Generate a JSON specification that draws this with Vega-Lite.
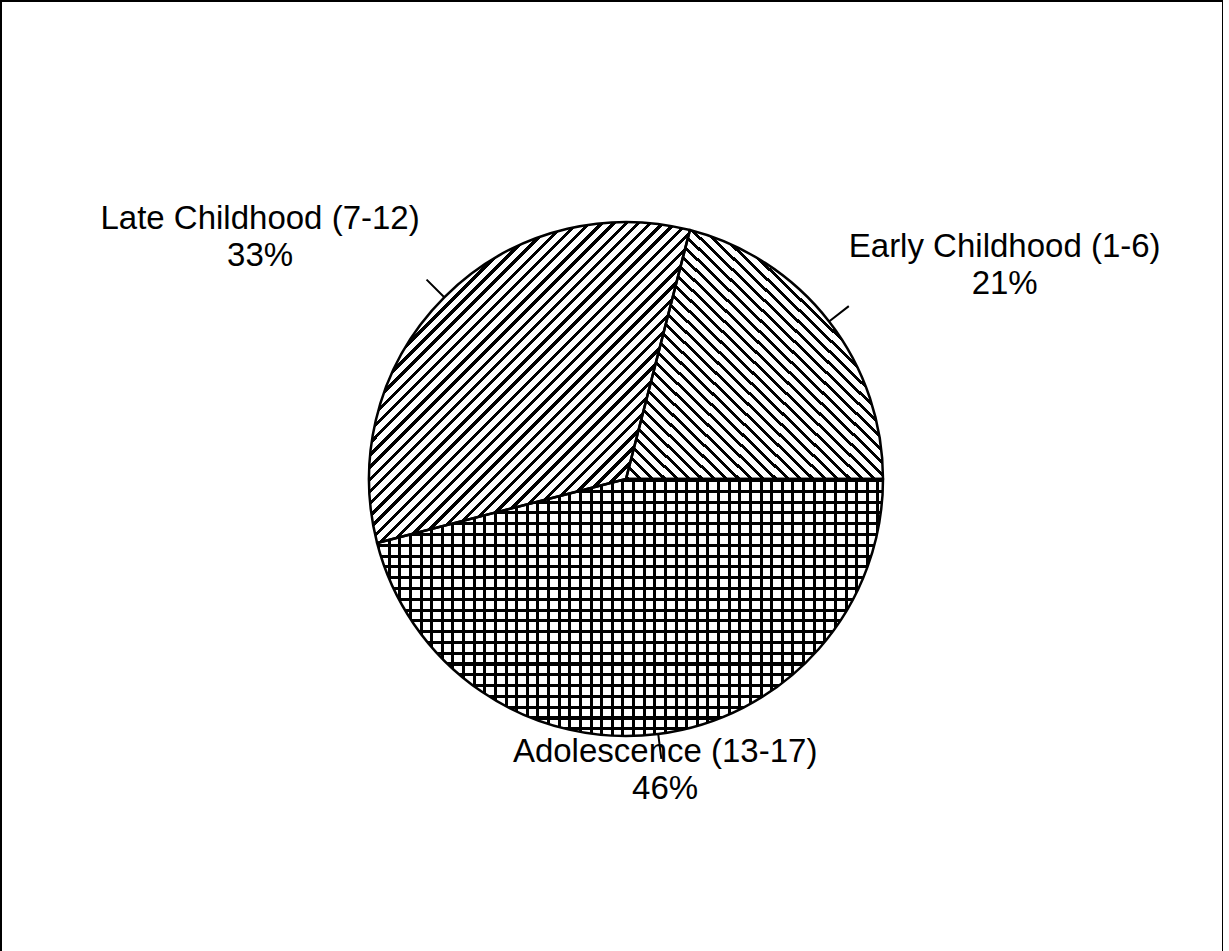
{
"$schema":"https://vega.github.io/schema/vega-lite/v6.json",
"autosize":{"type":"none"},
"width":1222,"height":956,
"padding":{"left":1,"top":1,"right":0,"bottom":0},
"background":"#ffffff",
"view":{"stroke":"#000000","strokeWidth":2},
"data":{"values":[
{"cat":"Early Childhood (1-6)","pct":21,"ord":1},
{"cat":"Adolescence (13-17)","pct":46,"ord":2},
{"cat":"Late Childhood (7-12)","pct":33,"ord":3}
]},
"transform":[{"calculate":"datum.cat + '\\n' + datum.pct + '%'","as":"txt"}],
"encoding":{
"theta":{"field":"pct","type":"quantitative","stack":true,"scale":{"range":[0.2513,6.5345]}},
"order":{"field":"ord","type":"quantitative"},
"detail":{"field":"cat","type":"nominal"}
},
"layer":[
{"mark":{"type":"arc","radius":257,"x":{"expr":"width/2+14"},"y":{"expr":"height/2"},
"fill":{"gradient":"linear","x1":0,"y1":1,"x2":1,"y2":0,"stops":[
{"offset":0,"color":"#000"},{"offset":0.008,"color":"#000"},{"offset":0.008,"color":"#fff"},{"offset":0.024,"color":"#fff"},
{"offset":0.024,"color":"#000"},{"offset":0.032,"color":"#000"},{"offset":0.032,"color":"#fff"},{"offset":0.048,"color":"#fff"},
{"offset":0.048,"color":"#000"},{"offset":0.056,"color":"#000"},{"offset":0.056,"color":"#fff"},{"offset":0.072,"color":"#fff"},
{"offset":0.072,"color":"#000"},{"offset":0.08,"color":"#000"},{"offset":0.08,"color":"#fff"},{"offset":0.096,"color":"#fff"},
{"offset":0.096,"color":"#000"},{"offset":0.104,"color":"#000"},{"offset":0.104,"color":"#fff"},{"offset":0.12,"color":"#fff"},
{"offset":0.12,"color":"#000"},{"offset":0.128,"color":"#000"},{"offset":0.128,"color":"#fff"},{"offset":0.144,"color":"#fff"},
{"offset":0.144,"color":"#000"},{"offset":0.152,"color":"#000"},{"offset":0.152,"color":"#fff"},{"offset":0.168,"color":"#fff"},
{"offset":0.168,"color":"#000"},{"offset":0.176,"color":"#000"},{"offset":0.176,"color":"#fff"},{"offset":0.192,"color":"#fff"},
{"offset":0.192,"color":"#000"},{"offset":0.2,"color":"#000"},{"offset":0.2,"color":"#fff"},{"offset":0.216,"color":"#fff"},
{"offset":0.216,"color":"#000"},{"offset":0.224,"color":"#000"},{"offset":0.224,"color":"#fff"},{"offset":0.24,"color":"#fff"},
{"offset":0.24,"color":"#000"},{"offset":0.248,"color":"#000"},{"offset":0.248,"color":"#fff"},{"offset":0.264,"color":"#fff"},
{"offset":0.264,"color":"#000"},{"offset":0.272,"color":"#000"},{"offset":0.272,"color":"#fff"},{"offset":0.288,"color":"#fff"},
{"offset":0.288,"color":"#000"},{"offset":0.296,"color":"#000"},{"offset":0.296,"color":"#fff"},{"offset":0.312,"color":"#fff"},
{"offset":0.312,"color":"#000"},{"offset":0.32,"color":"#000"},{"offset":0.32,"color":"#fff"},{"offset":0.336,"color":"#fff"},
{"offset":0.336,"color":"#000"},{"offset":0.344,"color":"#000"},{"offset":0.344,"color":"#fff"},{"offset":0.36,"color":"#fff"},
{"offset":0.36,"color":"#000"},{"offset":0.368,"color":"#000"},{"offset":0.368,"color":"#fff"},{"offset":0.384,"color":"#fff"},
{"offset":0.384,"color":"#000"},{"offset":0.392,"color":"#000"},{"offset":0.392,"color":"#fff"},{"offset":0.408,"color":"#fff"},
{"offset":0.408,"color":"#000"},{"offset":0.416,"color":"#000"},{"offset":0.416,"color":"#fff"},{"offset":0.432,"color":"#fff"},
{"offset":0.432,"color":"#000"},{"offset":0.44,"color":"#000"},{"offset":0.44,"color":"#fff"},{"offset":0.456,"color":"#fff"},
{"offset":0.456,"color":"#000"},{"offset":0.464,"color":"#000"},{"offset":0.464,"color":"#fff"},{"offset":0.48,"color":"#fff"},
{"offset":0.48,"color":"#000"},{"offset":0.488,"color":"#000"},{"offset":0.488,"color":"#fff"},{"offset":0.504,"color":"#fff"},
{"offset":0.504,"color":"#000"},{"offset":0.512,"color":"#000"},{"offset":0.512,"color":"#fff"},{"offset":0.528,"color":"#fff"},
{"offset":0.528,"color":"#000"},{"offset":0.536,"color":"#000"},{"offset":0.536,"color":"#fff"},{"offset":0.552,"color":"#fff"},
{"offset":0.552,"color":"#000"},{"offset":0.56,"color":"#000"},{"offset":0.56,"color":"#fff"},{"offset":0.576,"color":"#fff"},
{"offset":0.576,"color":"#000"},{"offset":0.584,"color":"#000"},{"offset":0.584,"color":"#fff"},{"offset":0.6,"color":"#fff"},
{"offset":0.6,"color":"#000"},{"offset":0.608,"color":"#000"},{"offset":0.608,"color":"#fff"},{"offset":0.624,"color":"#fff"},
{"offset":0.624,"color":"#000"},{"offset":0.632,"color":"#000"},{"offset":0.632,"color":"#fff"},{"offset":0.648,"color":"#fff"},
{"offset":0.648,"color":"#000"},{"offset":0.656,"color":"#000"},{"offset":0.656,"color":"#fff"},{"offset":0.672,"color":"#fff"},
{"offset":0.672,"color":"#000"},{"offset":0.68,"color":"#000"},{"offset":0.68,"color":"#fff"},{"offset":0.696,"color":"#fff"},
{"offset":0.696,"color":"#000"},{"offset":0.704,"color":"#000"},{"offset":0.704,"color":"#fff"},{"offset":0.72,"color":"#fff"},
{"offset":0.72,"color":"#000"},{"offset":0.728,"color":"#000"},{"offset":0.728,"color":"#fff"},{"offset":0.744,"color":"#fff"},
{"offset":0.744,"color":"#000"},{"offset":0.752,"color":"#000"},{"offset":0.752,"color":"#fff"},{"offset":0.768,"color":"#fff"},
{"offset":0.768,"color":"#000"},{"offset":0.776,"color":"#000"},{"offset":0.776,"color":"#fff"},{"offset":0.792,"color":"#fff"},
{"offset":0.792,"color":"#000"},{"offset":0.8,"color":"#000"},{"offset":0.8,"color":"#fff"},{"offset":0.816,"color":"#fff"},
{"offset":0.816,"color":"#000"},{"offset":0.824,"color":"#000"},{"offset":0.824,"color":"#fff"},{"offset":0.84,"color":"#fff"},
{"offset":0.84,"color":"#000"},{"offset":0.848,"color":"#000"},{"offset":0.848,"color":"#fff"},{"offset":0.864,"color":"#fff"},
{"offset":0.864,"color":"#000"},{"offset":0.872,"color":"#000"},{"offset":0.872,"color":"#fff"},{"offset":0.888,"color":"#fff"},
{"offset":0.888,"color":"#000"},{"offset":0.896,"color":"#000"},{"offset":0.896,"color":"#fff"},{"offset":0.912,"color":"#fff"},
{"offset":0.912,"color":"#000"},{"offset":0.92,"color":"#000"},{"offset":0.92,"color":"#fff"},{"offset":0.936,"color":"#fff"},
{"offset":0.936,"color":"#000"},{"offset":0.944,"color":"#000"},{"offset":0.944,"color":"#fff"},{"offset":0.96,"color":"#fff"},
{"offset":0.96,"color":"#000"},{"offset":0.968,"color":"#000"},{"offset":0.968,"color":"#fff"},{"offset":1,"color":"#fff"}
]}},
"encoding":{"fillOpacity":{"condition":{"test":"datum.ord === 1","value":1},"value":0}}},
{"mark":{"type":"arc","radius":257,"x":{"expr":"width/2+14"},"y":{"expr":"height/2"},
"fill":{"gradient":"linear","x1":0,"y1":0,"x2":1,"y2":1,"stops":[
{"offset":0,"color":"#000"},{"offset":0.007,"color":"#000"},{"offset":0.007,"color":"#fff"},{"offset":0.019,"color":"#fff"},
{"offset":0.019,"color":"#000"},{"offset":0.026,"color":"#000"},{"offset":0.026,"color":"#fff"},{"offset":0.038,"color":"#fff"},
{"offset":0.038,"color":"#000"},{"offset":0.045,"color":"#000"},{"offset":0.045,"color":"#fff"},{"offset":0.057,"color":"#fff"},
{"offset":0.057,"color":"#000"},{"offset":0.064,"color":"#000"},{"offset":0.064,"color":"#fff"},{"offset":0.076,"color":"#fff"},
{"offset":0.076,"color":"#000"},{"offset":0.083,"color":"#000"},{"offset":0.083,"color":"#fff"},{"offset":0.095,"color":"#fff"},
{"offset":0.095,"color":"#000"},{"offset":0.102,"color":"#000"},{"offset":0.102,"color":"#fff"},{"offset":0.114,"color":"#fff"},
{"offset":0.114,"color":"#000"},{"offset":0.121,"color":"#000"},{"offset":0.121,"color":"#fff"},{"offset":0.133,"color":"#fff"},
{"offset":0.133,"color":"#000"},{"offset":0.14,"color":"#000"},{"offset":0.14,"color":"#fff"},{"offset":0.152,"color":"#fff"},
{"offset":0.152,"color":"#000"},{"offset":0.159,"color":"#000"},{"offset":0.159,"color":"#fff"},{"offset":0.171,"color":"#fff"},
{"offset":0.171,"color":"#000"},{"offset":0.178,"color":"#000"},{"offset":0.178,"color":"#fff"},{"offset":0.19,"color":"#fff"},
{"offset":0.19,"color":"#000"},{"offset":0.197,"color":"#000"},{"offset":0.197,"color":"#fff"},{"offset":0.209,"color":"#fff"},
{"offset":0.209,"color":"#000"},{"offset":0.216,"color":"#000"},{"offset":0.216,"color":"#fff"},{"offset":0.228,"color":"#fff"},
{"offset":0.228,"color":"#000"},{"offset":0.235,"color":"#000"},{"offset":0.235,"color":"#fff"},{"offset":0.247,"color":"#fff"},
{"offset":0.247,"color":"#000"},{"offset":0.254,"color":"#000"},{"offset":0.254,"color":"#fff"},{"offset":0.266,"color":"#fff"},
{"offset":0.266,"color":"#000"},{"offset":0.273,"color":"#000"},{"offset":0.273,"color":"#fff"},{"offset":0.285,"color":"#fff"},
{"offset":0.285,"color":"#000"},{"offset":0.292,"color":"#000"},{"offset":0.292,"color":"#fff"},{"offset":0.304,"color":"#fff"},
{"offset":0.304,"color":"#000"},{"offset":0.311,"color":"#000"},{"offset":0.311,"color":"#fff"},{"offset":0.323,"color":"#fff"},
{"offset":0.323,"color":"#000"},{"offset":0.33,"color":"#000"},{"offset":0.33,"color":"#fff"},{"offset":0.342,"color":"#fff"},
{"offset":0.342,"color":"#000"},{"offset":0.349,"color":"#000"},{"offset":0.349,"color":"#fff"},{"offset":0.361,"color":"#fff"},
{"offset":0.361,"color":"#000"},{"offset":0.368,"color":"#000"},{"offset":0.368,"color":"#fff"},{"offset":0.38,"color":"#fff"},
{"offset":0.38,"color":"#000"},{"offset":0.387,"color":"#000"},{"offset":0.387,"color":"#fff"},{"offset":0.399,"color":"#fff"},
{"offset":0.399,"color":"#000"},{"offset":0.406,"color":"#000"},{"offset":0.406,"color":"#fff"},{"offset":0.418,"color":"#fff"},
{"offset":0.418,"color":"#000"},{"offset":0.425,"color":"#000"},{"offset":0.425,"color":"#fff"},{"offset":0.437,"color":"#fff"},
{"offset":0.437,"color":"#000"},{"offset":0.444,"color":"#000"},{"offset":0.444,"color":"#fff"},{"offset":0.456,"color":"#fff"},
{"offset":0.456,"color":"#000"},{"offset":0.463,"color":"#000"},{"offset":0.463,"color":"#fff"},{"offset":0.475,"color":"#fff"},
{"offset":0.475,"color":"#000"},{"offset":0.482,"color":"#000"},{"offset":0.482,"color":"#fff"},{"offset":0.494,"color":"#fff"},
{"offset":0.494,"color":"#000"},{"offset":0.501,"color":"#000"},{"offset":0.501,"color":"#fff"},{"offset":0.513,"color":"#fff"},
{"offset":0.513,"color":"#000"},{"offset":0.52,"color":"#000"},{"offset":0.52,"color":"#fff"},{"offset":0.532,"color":"#fff"},
{"offset":0.532,"color":"#000"},{"offset":0.539,"color":"#000"},{"offset":0.539,"color":"#fff"},{"offset":0.551,"color":"#fff"},
{"offset":0.551,"color":"#000"},{"offset":0.558,"color":"#000"},{"offset":0.558,"color":"#fff"},{"offset":0.57,"color":"#fff"},
{"offset":0.57,"color":"#000"},{"offset":0.577,"color":"#000"},{"offset":0.577,"color":"#fff"},{"offset":0.589,"color":"#fff"},
{"offset":0.589,"color":"#000"},{"offset":0.596,"color":"#000"},{"offset":0.596,"color":"#fff"},{"offset":0.608,"color":"#fff"},
{"offset":0.608,"color":"#000"},{"offset":0.615,"color":"#000"},{"offset":0.615,"color":"#fff"},{"offset":0.627,"color":"#fff"},
{"offset":0.627,"color":"#000"},{"offset":0.634,"color":"#000"},{"offset":0.634,"color":"#fff"},{"offset":0.646,"color":"#fff"},
{"offset":0.646,"color":"#000"},{"offset":0.653,"color":"#000"},{"offset":0.653,"color":"#fff"},{"offset":0.665,"color":"#fff"},
{"offset":0.665,"color":"#000"},{"offset":0.672,"color":"#000"},{"offset":0.672,"color":"#fff"},{"offset":0.684,"color":"#fff"},
{"offset":0.684,"color":"#000"},{"offset":0.691,"color":"#000"},{"offset":0.691,"color":"#fff"},{"offset":0.703,"color":"#fff"},
{"offset":0.703,"color":"#000"},{"offset":0.71,"color":"#000"},{"offset":0.71,"color":"#fff"},{"offset":0.722,"color":"#fff"},
{"offset":0.722,"color":"#000"},{"offset":0.729,"color":"#000"},{"offset":0.729,"color":"#fff"},{"offset":0.741,"color":"#fff"},
{"offset":0.741,"color":"#000"},{"offset":0.748,"color":"#000"},{"offset":0.748,"color":"#fff"},{"offset":0.76,"color":"#fff"},
{"offset":0.76,"color":"#000"},{"offset":0.767,"color":"#000"},{"offset":0.767,"color":"#fff"},{"offset":0.779,"color":"#fff"},
{"offset":0.779,"color":"#000"},{"offset":0.786,"color":"#000"},{"offset":0.786,"color":"#fff"},{"offset":0.798,"color":"#fff"},
{"offset":0.798,"color":"#000"},{"offset":0.805,"color":"#000"},{"offset":0.805,"color":"#fff"},{"offset":0.817,"color":"#fff"},
{"offset":0.817,"color":"#000"},{"offset":0.824,"color":"#000"},{"offset":0.824,"color":"#fff"},{"offset":0.836,"color":"#fff"},
{"offset":0.836,"color":"#000"},{"offset":0.843,"color":"#000"},{"offset":0.843,"color":"#fff"},{"offset":0.855,"color":"#fff"},
{"offset":0.855,"color":"#000"},{"offset":0.862,"color":"#000"},{"offset":0.862,"color":"#fff"},{"offset":0.874,"color":"#fff"},
{"offset":0.874,"color":"#000"},{"offset":0.881,"color":"#000"},{"offset":0.881,"color":"#fff"},{"offset":0.893,"color":"#fff"},
{"offset":0.893,"color":"#000"},{"offset":0.9,"color":"#000"},{"offset":0.9,"color":"#fff"},{"offset":0.912,"color":"#fff"},
{"offset":0.912,"color":"#000"},{"offset":0.919,"color":"#000"},{"offset":0.919,"color":"#fff"},{"offset":0.931,"color":"#fff"},
{"offset":0.931,"color":"#000"},{"offset":0.938,"color":"#000"},{"offset":0.938,"color":"#fff"},{"offset":0.95,"color":"#fff"},
{"offset":0.95,"color":"#000"},{"offset":0.957,"color":"#000"},{"offset":0.957,"color":"#fff"},{"offset":0.969,"color":"#fff"},
{"offset":0.969,"color":"#000"},{"offset":0.976,"color":"#000"},{"offset":0.976,"color":"#fff"},{"offset":0.988,"color":"#fff"},
{"offset":0.988,"color":"#000"},{"offset":0.995,"color":"#000"},{"offset":0.995,"color":"#fff"},{"offset":1,"color":"#fff"}
]}},
"encoding":{"fillOpacity":{"condition":{"test":"datum.ord === 3","value":1},"value":0}}},
{"mark":{"type":"arc","radius":257,"x":{"expr":"width/2+14"},"y":{"expr":"height/2"},
"fill":{"gradient":"linear","x1":0,"y1":0,"x2":1,"y2":0,"stops":[
{"offset":0,"color":"#000"},{"offset":0.006,"color":"#000"},{"offset":0.006,"color":"#fff"},{"offset":0.021,"color":"#fff"},
{"offset":0.021,"color":"#000"},{"offset":0.027,"color":"#000"},{"offset":0.027,"color":"#fff"},{"offset":0.042,"color":"#fff"},
{"offset":0.042,"color":"#000"},{"offset":0.048,"color":"#000"},{"offset":0.048,"color":"#fff"},{"offset":0.063,"color":"#fff"},
{"offset":0.063,"color":"#000"},{"offset":0.069,"color":"#000"},{"offset":0.069,"color":"#fff"},{"offset":0.084,"color":"#fff"},
{"offset":0.084,"color":"#000"},{"offset":0.09,"color":"#000"},{"offset":0.09,"color":"#fff"},{"offset":0.105,"color":"#fff"},
{"offset":0.105,"color":"#000"},{"offset":0.111,"color":"#000"},{"offset":0.111,"color":"#fff"},{"offset":0.126,"color":"#fff"},
{"offset":0.126,"color":"#000"},{"offset":0.132,"color":"#000"},{"offset":0.132,"color":"#fff"},{"offset":0.147,"color":"#fff"},
{"offset":0.147,"color":"#000"},{"offset":0.153,"color":"#000"},{"offset":0.153,"color":"#fff"},{"offset":0.168,"color":"#fff"},
{"offset":0.168,"color":"#000"},{"offset":0.174,"color":"#000"},{"offset":0.174,"color":"#fff"},{"offset":0.189,"color":"#fff"},
{"offset":0.189,"color":"#000"},{"offset":0.195,"color":"#000"},{"offset":0.195,"color":"#fff"},{"offset":0.21,"color":"#fff"},
{"offset":0.21,"color":"#000"},{"offset":0.216,"color":"#000"},{"offset":0.216,"color":"#fff"},{"offset":0.231,"color":"#fff"},
{"offset":0.231,"color":"#000"},{"offset":0.237,"color":"#000"},{"offset":0.237,"color":"#fff"},{"offset":0.252,"color":"#fff"},
{"offset":0.252,"color":"#000"},{"offset":0.258,"color":"#000"},{"offset":0.258,"color":"#fff"},{"offset":0.273,"color":"#fff"},
{"offset":0.273,"color":"#000"},{"offset":0.279,"color":"#000"},{"offset":0.279,"color":"#fff"},{"offset":0.294,"color":"#fff"},
{"offset":0.294,"color":"#000"},{"offset":0.3,"color":"#000"},{"offset":0.3,"color":"#fff"},{"offset":0.315,"color":"#fff"},
{"offset":0.315,"color":"#000"},{"offset":0.321,"color":"#000"},{"offset":0.321,"color":"#fff"},{"offset":0.336,"color":"#fff"},
{"offset":0.336,"color":"#000"},{"offset":0.342,"color":"#000"},{"offset":0.342,"color":"#fff"},{"offset":0.357,"color":"#fff"},
{"offset":0.357,"color":"#000"},{"offset":0.363,"color":"#000"},{"offset":0.363,"color":"#fff"},{"offset":0.378,"color":"#fff"},
{"offset":0.378,"color":"#000"},{"offset":0.384,"color":"#000"},{"offset":0.384,"color":"#fff"},{"offset":0.399,"color":"#fff"},
{"offset":0.399,"color":"#000"},{"offset":0.405,"color":"#000"},{"offset":0.405,"color":"#fff"},{"offset":0.42,"color":"#fff"},
{"offset":0.42,"color":"#000"},{"offset":0.426,"color":"#000"},{"offset":0.426,"color":"#fff"},{"offset":0.441,"color":"#fff"},
{"offset":0.441,"color":"#000"},{"offset":0.447,"color":"#000"},{"offset":0.447,"color":"#fff"},{"offset":0.462,"color":"#fff"},
{"offset":0.462,"color":"#000"},{"offset":0.468,"color":"#000"},{"offset":0.468,"color":"#fff"},{"offset":0.483,"color":"#fff"},
{"offset":0.483,"color":"#000"},{"offset":0.489,"color":"#000"},{"offset":0.489,"color":"#fff"},{"offset":0.504,"color":"#fff"},
{"offset":0.504,"color":"#000"},{"offset":0.51,"color":"#000"},{"offset":0.51,"color":"#fff"},{"offset":0.525,"color":"#fff"},
{"offset":0.525,"color":"#000"},{"offset":0.531,"color":"#000"},{"offset":0.531,"color":"#fff"},{"offset":0.546,"color":"#fff"},
{"offset":0.546,"color":"#000"},{"offset":0.552,"color":"#000"},{"offset":0.552,"color":"#fff"},{"offset":0.567,"color":"#fff"},
{"offset":0.567,"color":"#000"},{"offset":0.573,"color":"#000"},{"offset":0.573,"color":"#fff"},{"offset":0.588,"color":"#fff"},
{"offset":0.588,"color":"#000"},{"offset":0.594,"color":"#000"},{"offset":0.594,"color":"#fff"},{"offset":0.609,"color":"#fff"},
{"offset":0.609,"color":"#000"},{"offset":0.615,"color":"#000"},{"offset":0.615,"color":"#fff"},{"offset":0.63,"color":"#fff"},
{"offset":0.63,"color":"#000"},{"offset":0.636,"color":"#000"},{"offset":0.636,"color":"#fff"},{"offset":0.651,"color":"#fff"},
{"offset":0.651,"color":"#000"},{"offset":0.657,"color":"#000"},{"offset":0.657,"color":"#fff"},{"offset":0.672,"color":"#fff"},
{"offset":0.672,"color":"#000"},{"offset":0.678,"color":"#000"},{"offset":0.678,"color":"#fff"},{"offset":0.693,"color":"#fff"},
{"offset":0.693,"color":"#000"},{"offset":0.699,"color":"#000"},{"offset":0.699,"color":"#fff"},{"offset":0.714,"color":"#fff"},
{"offset":0.714,"color":"#000"},{"offset":0.72,"color":"#000"},{"offset":0.72,"color":"#fff"},{"offset":0.735,"color":"#fff"},
{"offset":0.735,"color":"#000"},{"offset":0.741,"color":"#000"},{"offset":0.741,"color":"#fff"},{"offset":0.756,"color":"#fff"},
{"offset":0.756,"color":"#000"},{"offset":0.762,"color":"#000"},{"offset":0.762,"color":"#fff"},{"offset":0.777,"color":"#fff"},
{"offset":0.777,"color":"#000"},{"offset":0.783,"color":"#000"},{"offset":0.783,"color":"#fff"},{"offset":0.798,"color":"#fff"},
{"offset":0.798,"color":"#000"},{"offset":0.804,"color":"#000"},{"offset":0.804,"color":"#fff"},{"offset":0.819,"color":"#fff"},
{"offset":0.819,"color":"#000"},{"offset":0.825,"color":"#000"},{"offset":0.825,"color":"#fff"},{"offset":0.84,"color":"#fff"},
{"offset":0.84,"color":"#000"},{"offset":0.846,"color":"#000"},{"offset":0.846,"color":"#fff"},{"offset":0.861,"color":"#fff"},
{"offset":0.861,"color":"#000"},{"offset":0.867,"color":"#000"},{"offset":0.867,"color":"#fff"},{"offset":0.882,"color":"#fff"},
{"offset":0.882,"color":"#000"},{"offset":0.888,"color":"#000"},{"offset":0.888,"color":"#fff"},{"offset":0.903,"color":"#fff"},
{"offset":0.903,"color":"#000"},{"offset":0.909,"color":"#000"},{"offset":0.909,"color":"#fff"},{"offset":0.924,"color":"#fff"},
{"offset":0.924,"color":"#000"},{"offset":0.93,"color":"#000"},{"offset":0.93,"color":"#fff"},{"offset":0.945,"color":"#fff"},
{"offset":0.945,"color":"#000"},{"offset":0.951,"color":"#000"},{"offset":0.951,"color":"#fff"},{"offset":0.966,"color":"#fff"},
{"offset":0.966,"color":"#000"},{"offset":0.972,"color":"#000"},{"offset":0.972,"color":"#fff"},{"offset":0.987,"color":"#fff"},
{"offset":0.987,"color":"#000"},{"offset":0.993,"color":"#000"},{"offset":0.993,"color":"#fff"},{"offset":1,"color":"#fff"}
]}},
"encoding":{"fillOpacity":{"condition":{"test":"datum.ord === 2","value":1},"value":0}}},
{"mark":{"type":"arc","radius":257,"x":{"expr":"width/2+14"},"y":{"expr":"height/2"},
"fill":{"gradient":"linear","x1":0,"y1":0,"x2":0,"y2":1,"stops":[
{"offset":0,"color":"#000"},{"offset":0.012,"color":"#000"},{"offset":0.012,"color":"transparent"},{"offset":0.042,"color":"transparent"},
{"offset":0.042,"color":"#000"},{"offset":0.054,"color":"#000"},{"offset":0.054,"color":"transparent"},{"offset":0.084,"color":"transparent"},
{"offset":0.084,"color":"#000"},{"offset":0.096,"color":"#000"},{"offset":0.096,"color":"transparent"},{"offset":0.126,"color":"transparent"},
{"offset":0.126,"color":"#000"},{"offset":0.138,"color":"#000"},{"offset":0.138,"color":"transparent"},{"offset":0.168,"color":"transparent"},
{"offset":0.168,"color":"#000"},{"offset":0.18,"color":"#000"},{"offset":0.18,"color":"transparent"},{"offset":0.21,"color":"transparent"},
{"offset":0.21,"color":"#000"},{"offset":0.222,"color":"#000"},{"offset":0.222,"color":"transparent"},{"offset":0.252,"color":"transparent"},
{"offset":0.252,"color":"#000"},{"offset":0.264,"color":"#000"},{"offset":0.264,"color":"transparent"},{"offset":0.294,"color":"transparent"},
{"offset":0.294,"color":"#000"},{"offset":0.306,"color":"#000"},{"offset":0.306,"color":"transparent"},{"offset":0.336,"color":"transparent"},
{"offset":0.336,"color":"#000"},{"offset":0.348,"color":"#000"},{"offset":0.348,"color":"transparent"},{"offset":0.378,"color":"transparent"},
{"offset":0.378,"color":"#000"},{"offset":0.39,"color":"#000"},{"offset":0.39,"color":"transparent"},{"offset":0.42,"color":"transparent"},
{"offset":0.42,"color":"#000"},{"offset":0.432,"color":"#000"},{"offset":0.432,"color":"transparent"},{"offset":0.462,"color":"transparent"},
{"offset":0.462,"color":"#000"},{"offset":0.474,"color":"#000"},{"offset":0.474,"color":"transparent"},{"offset":0.504,"color":"transparent"},
{"offset":0.504,"color":"#000"},{"offset":0.516,"color":"#000"},{"offset":0.516,"color":"transparent"},{"offset":0.546,"color":"transparent"},
{"offset":0.546,"color":"#000"},{"offset":0.558,"color":"#000"},{"offset":0.558,"color":"transparent"},{"offset":0.588,"color":"transparent"},
{"offset":0.588,"color":"#000"},{"offset":0.6,"color":"#000"},{"offset":0.6,"color":"transparent"},{"offset":0.63,"color":"transparent"},
{"offset":0.63,"color":"#000"},{"offset":0.642,"color":"#000"},{"offset":0.642,"color":"transparent"},{"offset":0.672,"color":"transparent"},
{"offset":0.672,"color":"#000"},{"offset":0.684,"color":"#000"},{"offset":0.684,"color":"transparent"},{"offset":0.714,"color":"transparent"},
{"offset":0.714,"color":"#000"},{"offset":0.726,"color":"#000"},{"offset":0.726,"color":"transparent"},{"offset":0.756,"color":"transparent"},
{"offset":0.756,"color":"#000"},{"offset":0.768,"color":"#000"},{"offset":0.768,"color":"transparent"},{"offset":0.798,"color":"transparent"},
{"offset":0.798,"color":"#000"},{"offset":0.81,"color":"#000"},{"offset":0.81,"color":"transparent"},{"offset":0.84,"color":"transparent"},
{"offset":0.84,"color":"#000"},{"offset":0.852,"color":"#000"},{"offset":0.852,"color":"transparent"},{"offset":0.882,"color":"transparent"},
{"offset":0.882,"color":"#000"},{"offset":0.894,"color":"#000"},{"offset":0.894,"color":"transparent"},{"offset":0.924,"color":"transparent"},
{"offset":0.924,"color":"#000"},{"offset":0.936,"color":"#000"},{"offset":0.936,"color":"transparent"},{"offset":0.966,"color":"transparent"},
{"offset":0.966,"color":"#000"},{"offset":0.978,"color":"#000"},{"offset":0.978,"color":"transparent"},{"offset":1,"color":"transparent"}
]}},
"encoding":{"fillOpacity":{"condition":{"test":"datum.ord === 2","value":1},"value":0}}},
{"mark":{"type":"arc","radius":257,"x":{"expr":"width/2+14"},"y":{"expr":"height/2"},"fill":"transparent","stroke":"#000","strokeWidth":2.5,"strokeJoin":"round"}},
{"mark":{"type":"arc","radius":282,"radius2":257,"padAngle":3,"x":{"expr":"width/2+14"},"y":{"expr":"height/2"},"fill":"transparent","stroke":"#000","strokeWidth":2}},
{"mark":{"type":"text","radius":439,"x":{"expr":"width/2+14"},"y":{"expr":"height/2"},"font":"Liberation Sans","fontSize":33,"lineBreak":"\n","lineHeight":37,"align":"center","baseline":"alphabetic","color":"#000"},
"encoding":{"theta":{"field":"pct","type":"quantitative","stack":true,"bandPosition":0.598},"text":{"field":"txt","type":"nominal"},"opacity":{"condition":{"test":"datum.ord === 1","value":1},"value":0}}},
{"mark":{"type":"text","radius":286,"x":{"expr":"width/2+14"},"y":{"expr":"height/2"},"font":"Liberation Sans","fontSize":33,"lineBreak":"\n","lineHeight":37,"align":"center","baseline":"alphabetic","color":"#000"},
"encoding":{"theta":{"field":"pct","type":"quantitative","stack":true,"bandPosition":0.496},"text":{"field":"txt","type":"nominal"},"opacity":{"condition":{"test":"datum.ord === 2","value":1},"value":0}}},
{"mark":{"type":"text","radius":443,"x":{"expr":"width/2+14"},"y":{"expr":"height/2"},"font":"Liberation Sans","fontSize":33,"lineBreak":"\n","lineHeight":37,"align":"center","baseline":"alphabetic","color":"#000"},
"encoding":{"theta":{"field":"pct","type":"quantitative","stack":true,"bandPosition":0.41},"text":{"field":"txt","type":"nominal"},"opacity":{"condition":{"test":"datum.ord === 3","value":1},"value":0}}}
]
}
